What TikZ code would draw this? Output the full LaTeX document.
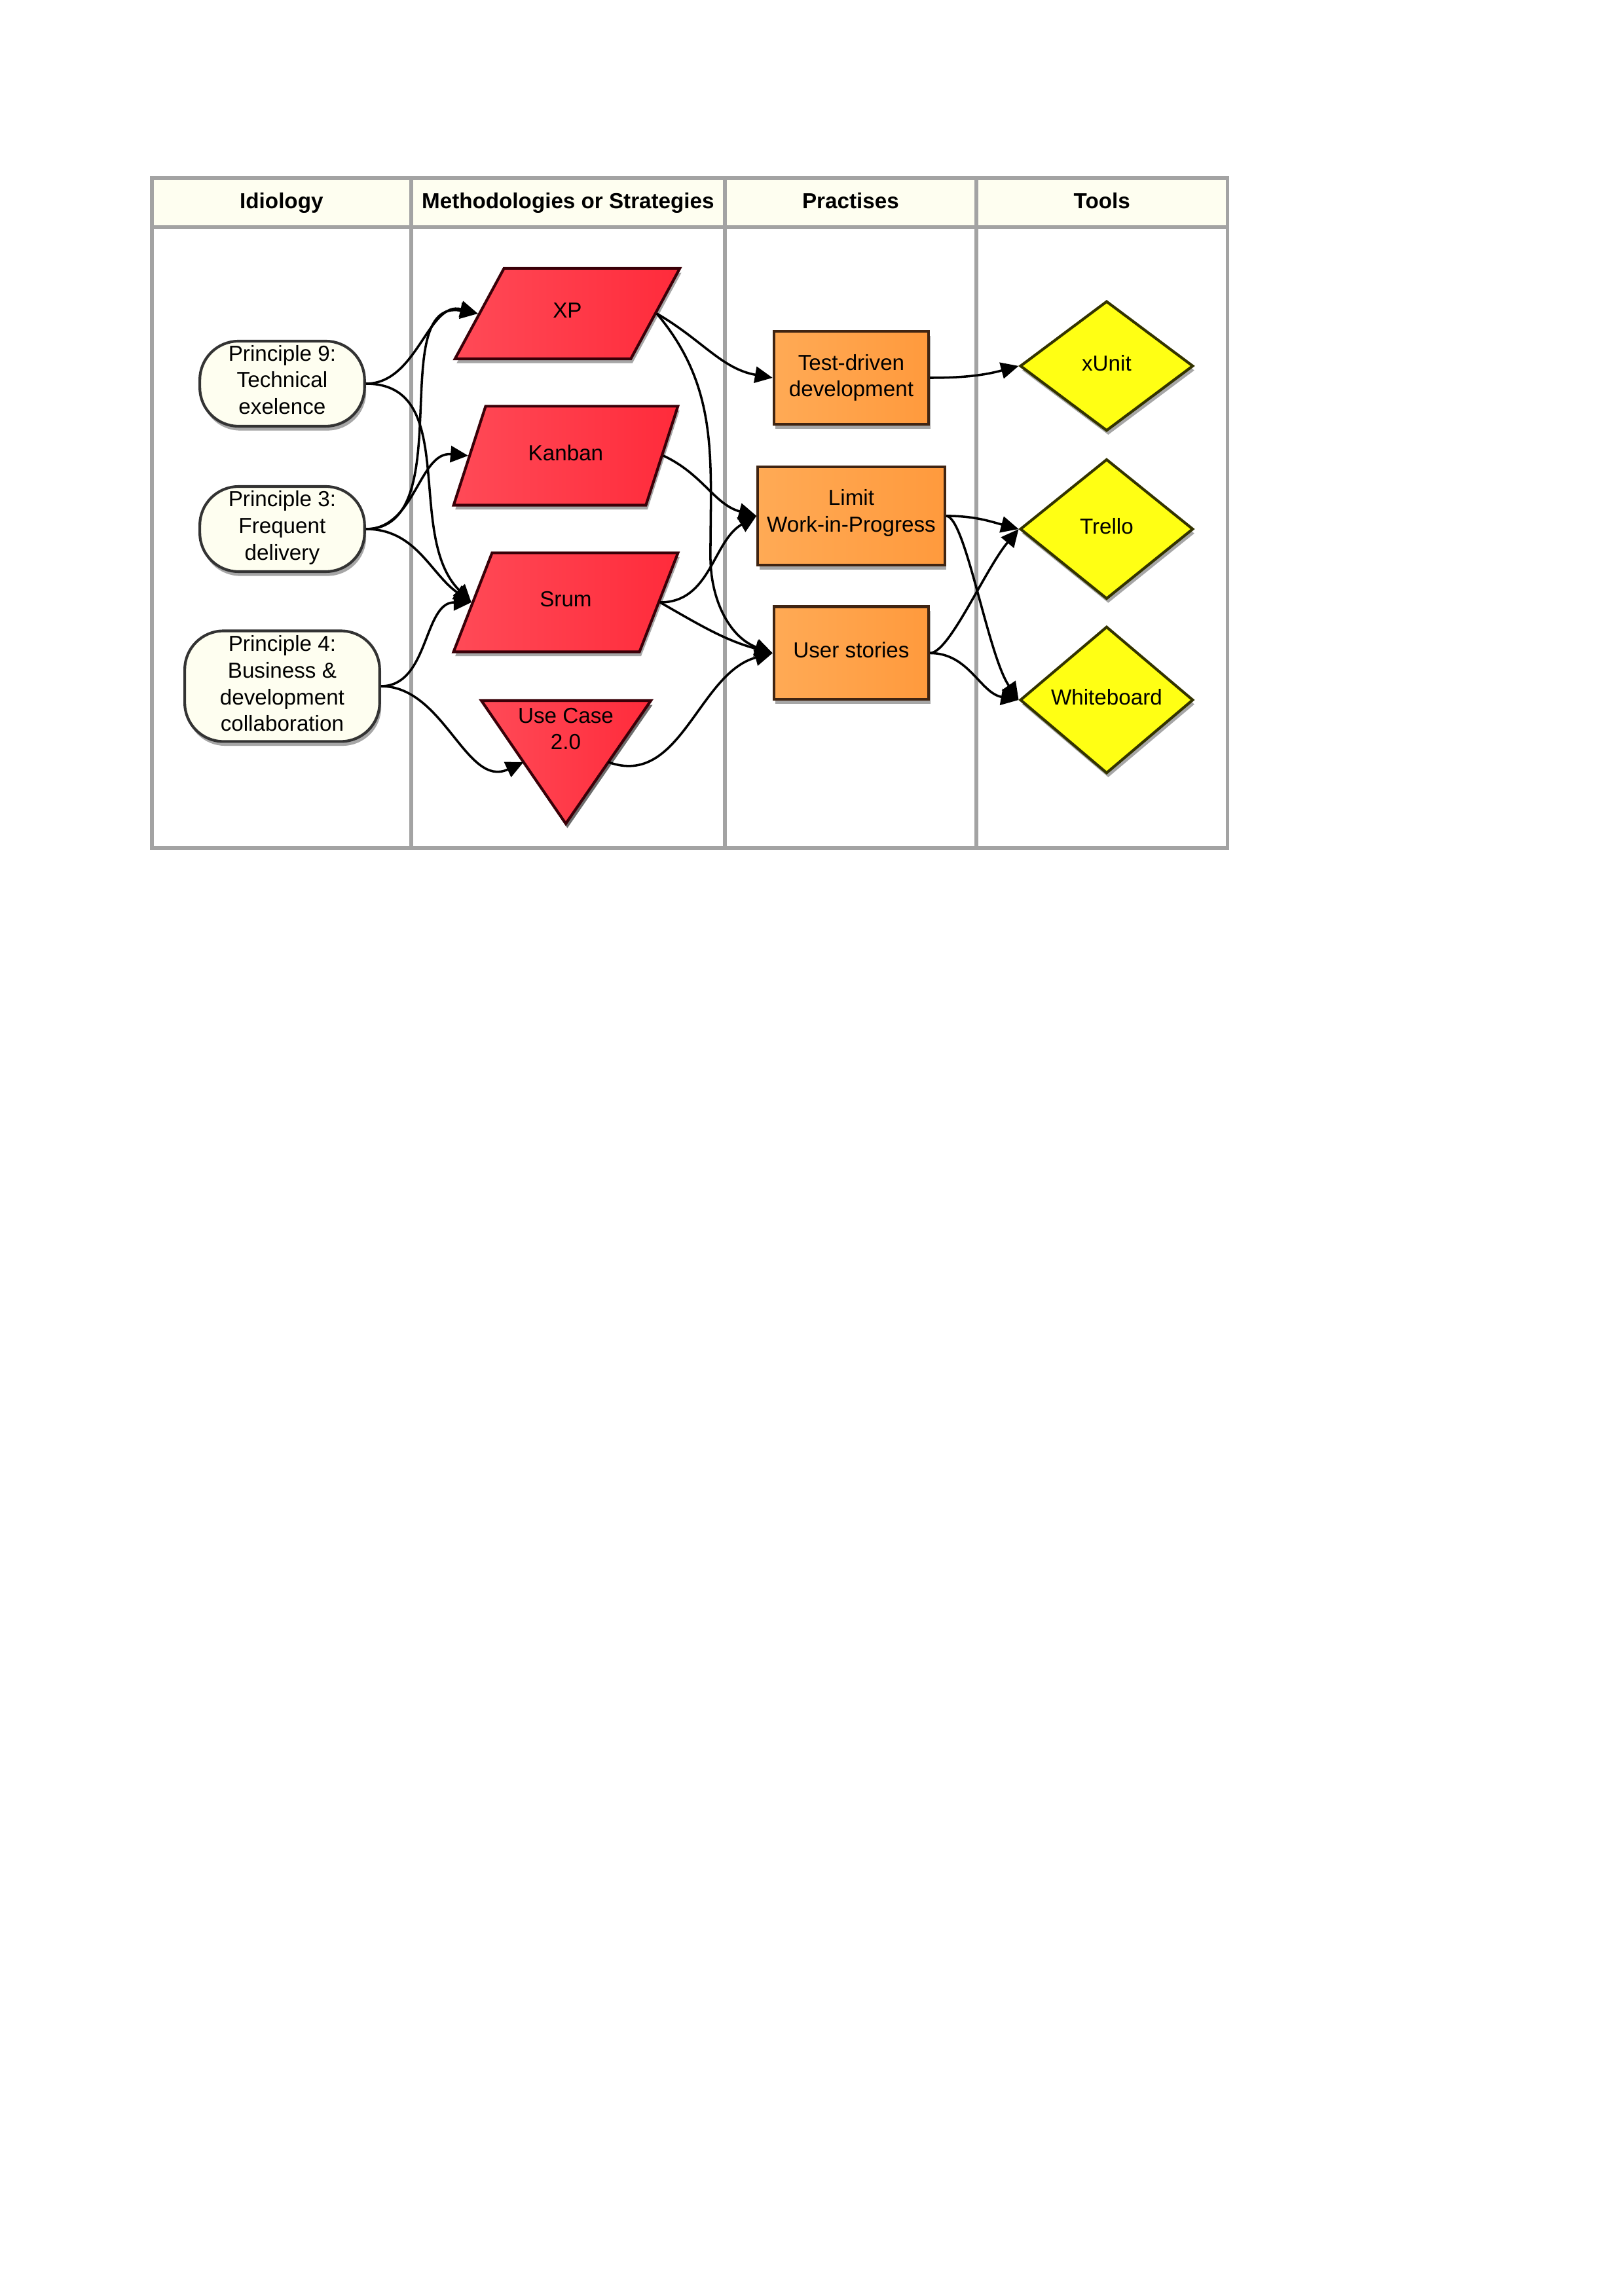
\documentclass[tikz,border=0pt]{standalone}
\usepackage{fontspec}
\setmainfont{Liberation Sans}
\usetikzlibrary{shapes.geometric,arrows.meta,shadows,calc}
\definecolor{lanegray}{HTML}{A3A3A3}
\definecolor{ivory}{HTML}{FEFEF0}
\definecolor{princline}{HTML}{333333}
\definecolor{methline}{HTML}{3A0008}
\definecolor{methleft}{HTML}{FF4A57}
\definecolor{methright}{HTML}{FF2B3B}
\definecolor{pracline}{HTML}{3F2412}
\definecolor{pracleft}{HTML}{FFAA55}
\definecolor{pracright}{HTML}{FF9A3D}
\definecolor{toolfill}{HTML}{FFFF14}
\definecolor{toolline}{HTML}{333300}
\begin{document}
\begin{tikzpicture}[
    font=\fontsize{8}{9.8}\selectfont,
    lane/.style={draw=lanegray, line width=1.3pt},
    heading/.style={font=\fontsize{8}{9.8}\selectfont\bfseries, text height=6pt, text depth=1.7pt},
    shade/.style={drop shadow={shadow xshift=0.6pt, shadow yshift=-1.6pt, opacity=0.35, fill=black}},
    principle/.style={shade, draw=princline, fill=ivory, line width=1pt, rounded corners=0.5cm,
        align=center, inner sep=1pt, minimum width=2.13cm, minimum height=1.1cm},
    method/.style={shade, trapezium, trapezium left angle=65, trapezium right angle=115,
        trapezium stretches=true, draw=methline, left color=methleft, right color=methright,
        line width=1pt, minimum width=2.91cm, minimum height=1.28cm, text depth=2.2pt},
    practice/.style={shade, rectangle, draw=pracline, left color=pracleft, right color=pracright,
        line width=1pt, align=center, minimum width=2cm, minimum height=1.2cm},
    tool/.style={shade, diamond, draw=toolline, fill=toolfill, line width=1pt, inner sep=0pt,
        minimum width=2.24cm, text depth=2.2pt},
    link/.style={-{Triangle[length=6.5pt,width=6pt]}, line width=0.85pt},
]
    \useasboundingbox (0,0) rectangle (21,-29.68);
    % draw the lanes
    \fill[ivory] (1.964,-2.303) rectangle (15.872,-2.938);
    \draw[lane] (1.964,-2.303) rectangle (15.872,-10.965);
    \draw[lane] (1.964,-2.938) -- (15.872,-2.938);
    \draw[lane] (5.317,-2.303) -- (5.317,-10.965);
    \draw[lane] (9.373,-2.303) -- (9.373,-10.965);
    \draw[lane] (12.625,-2.303) -- (12.625,-10.965);
    % the headings
    \node[heading] (hidio) at (3.64,-2.621) {Idiology};
    \node[heading] (hmeth) at (7.345,-2.621) {Methodologies or Strategies};
    \node[heading] (hprac) at (10.999,-2.621) {Practises};
    \node[heading] (htool) at (14.249,-2.621) {Tools};
    % the principles
    \node[principle, text depth=3pt] (p9) at (3.649,-4.962) {Principle 9:\\Technical\\exelence};
    \node[principle, text depth=2.7pt] (p3) at (3.649,-6.842) {Principle 3:\\Frequent\\delivery};
    \node[principle, minimum width=2.52cm, minimum height=1.43cm, text depth=2pt] (p4)
        at (3.649,-8.874) {Principle 4:\\Business \&\\development\\collaboration};
    % the methodologies
    \node[method, minimum height=1.17cm] (xp) at (7.337,-4.056) {XP};
    \node[method] (kanban) at (7.316,-5.893) {Kanban};
    \node[method] (srum) at (7.316,-7.790) {Srum};
    % the use case triangle (drawn by hand, its sides get coordinates)
    \coordinate (uca) at (6.224,-9.060);
    \coordinate (ucb) at (8.417,-9.060);
    \coordinate (ucc) at (7.316,-10.652);
    \shadedraw[shade, draw=methline, left color=methleft, right color=methright, line width=1pt,
        line join=miter] (uca) -- (ucb) -- (ucc) -- cycle;
    \node[align=center] (uc) at (7.316,-9.424) {Use Case\\2.0};
    \coordinate (ucl) at ($(uca)!0.5!(ucc)$);
    \coordinate (ucr) at ($(ucb)!0.5!(ucc)$);
    % the practises
    \node[practice] (tdd) at (11.008,-4.886) {Test-driven\\development};
    \node[practice, minimum width=2.39cm, minimum height=1.27cm, text depth=3.7pt] (lwip)
        at (11.008,-6.672) {Limit\\Work-in-Progress};
    \node[practice, text depth=2.2pt] (us) at (11.008,-8.446) {User stories};
    % the tools
    \node[tool, minimum height=1.68cm] (xunit) at (14.310,-4.733) {xUnit};
    \node[tool, minimum height=1.81cm] (trello) at (14.310,-6.842) {Trello};
    \node[tool, minimum height=1.9cm] (wb) at (14.310,-9.052) {Whiteboard};
    % principles to methodologies
    \draw[link] (p9.east) to[out=0,in=165] (xp.left side);
    \draw[link] (p9.east) to[out=0,in=135] (srum.left side);
    \draw[link] (p3.east) to[out=0,in=170] (xp.left side);
    \draw[link] (p3.east) to[out=0,in=175] (kanban.left side);
    \draw[link] (p3.east) to[out=0,in=145] (srum.left side);
    \draw[link] (p4.east) to[out=0,in=180] (srum.left side);
    \draw[link] (p4.east) to[out=0,in=205] (ucl);
    % methodologies to practises
    \draw[link] (xp.right side) to[out=-30,in=170] (tdd.west);
    \draw[link] (xp.right side) to[out=-50,in=90] (9.187,-7.197) to[out=-90,in=160] (us.west);
    \draw[link] (kanban.right side) to[out=-25,in=165] (lwip.west);
    \draw[link] (srum.right side) to[out=0,in=210] (lwip.west);
    \draw[link] (srum.right side) to[out=-30,in=165] (us.west);
    \draw[link] (ucr) to[out=-20,in=195] (us.west);
    % practises to tools
    \draw[link] (tdd.east) to[out=0,in=195] (xunit.west);
    \draw[link] (lwip.east) to[out=0,in=165] (trello.west);
    \draw[link] (lwip.east) .. controls +(0.25,0) and +(-0.4,0.58) .. (wb.west);
    \draw[link] (us.east) .. controls +(0.25,0) and +(-0.44,-0.53) .. (trello.west);
    \draw[link] (us.east) to[out=0,in=170] (wb.west);
\end{tikzpicture}
\end{document}
